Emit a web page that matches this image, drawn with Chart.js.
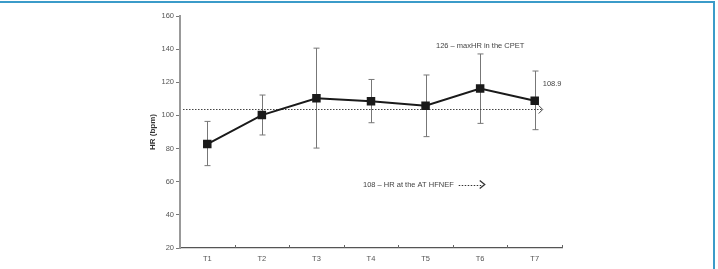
<!DOCTYPE html>
<html>
<head>
<meta charset="utf-8">
<script src="https://cdn.jsdelivr.net/npm/chart.js@4"></script>
<style>
  body { margin: 0; background: #fff; }
  #wrap { position: relative; width: 718px; height: 269px; }
  #frame { position: absolute; left: 0; top: 1px; width: 713px; height: 268px;
           border-top: 2px solid #3b9bc9; border-right: 2px solid #3b9bc9; }
</style>
</head>
<body>
<div id="wrap">
  <canvas id="hrChart" width="718" height="269"></canvas>
  <div id="frame"></div>
</div>
<script>
var labels = ['T1', 'T2', 'T3', 'T4', 'T5', 'T6', 'T7'];
var hrMean = [82.7, 100.2, 110.4, 108.6, 105.8, 116.2, 108.9];
var hrLow = [69.7, 88.2, 80.3, 95.6, 87.2, 95.2, 91.4];
var hrHigh = [96.4, 112.3, 140.6, 121.7, 124.4, 137.1, 126.8];
var yTicks = [20, 40, 60, 80, 100, 120, 140, 160];
var atLine = 104;

var font = '"Liberation Sans Narrow", "Liberation Sans", Arial, sans-serif';

var extras = {
    id: 'extras',
    beforeDatasetsDraw: function(chart) {
        var ctx = chart.ctx, x = chart.scales.x, y = chart.scales.y;
        ctx.save();
        // x ticks pointing up, at category boundaries
        ctx.strokeStyle = '#666';
        ctx.lineWidth = 1;
        var b = chart.chartArea.bottom;
        for (var i = 0; i < labels.length; i++) {
            var bx = Math.round(x.getPixelForValue(i) + (x.getPixelForValue(1) - x.getPixelForValue(0)) / 2) + 0.5;
            ctx.beginPath();
            ctx.moveTo(bx, b); ctx.lineTo(bx, b - 3);
            ctx.stroke();
        }
        // error bars
        ctx.strokeStyle = '#777';
        hrMean.forEach(function(v, i) {
            var px = Math.round(x.getPixelForValue(i)) + 0.5;
            var top = y.getPixelForValue(hrHigh[i]);
            var bot = y.getPixelForValue(hrLow[i]);
            ctx.beginPath();
            ctx.moveTo(px, top); ctx.lineTo(px, bot);
            ctx.moveTo(px - 3, top); ctx.lineTo(px + 3, top);
            ctx.moveTo(px - 3, bot); ctx.lineTo(px + 3, bot);
            ctx.stroke();
        });
        // dotted AT line with arrow
        var ly = Math.round(y.getPixelForValue(atLine)) + 0.5;
        var endX = x.getPixelForValue(6) + 7;
        ctx.strokeStyle = '#444';
        ctx.setLineDash([1.5, 1.5]);
        ctx.beginPath();
        ctx.moveTo(chart.chartArea.left + 3, ly);
        ctx.lineTo(endX, ly);
        ctx.stroke();
        ctx.setLineDash([]);
        ctx.beginPath();
        ctx.moveTo(endX - 3, ly - 4); ctx.lineTo(endX + 1, ly); ctx.lineTo(endX - 3, ly + 4);
        ctx.stroke();
        ctx.restore();
    },
    afterDatasetsDraw: function(chart) {
        var ctx = chart.ctx, x = chart.scales.x, y = chart.scales.y;
        ctx.save();
        ctx.fillStyle = '#444';
        ctx.font = '7.5px ' + font;
        ctx.textBaseline = 'middle';
        ctx.textAlign = 'center';
        ctx.fillText('126 \u2013 maxHR in the CPET', x.getPixelForValue(5), y.getPixelForValue(142));
        ctx.textAlign = 'left';
        ctx.fillText('108.9', x.getPixelForValue(6) + 8, y.getPixelForValue(119));
        var tx = x.getPixelForValue(3) - 8, ty = y.getPixelForValue(58.3);
        var txt = '108 \u2013 HR at the AT HFNEF';
        ctx.fillText(txt, tx, ty);
        var ax = tx + ctx.measureText(txt).width + 5;
        ctx.strokeStyle = '#333';
        ctx.lineWidth = 1;
        ctx.setLineDash([1.5, 1.5]);
        ctx.beginPath();
        ctx.moveTo(ax, Math.round(ty) + 0.5); ctx.lineTo(ax + 24, Math.round(ty) + 0.5);
        ctx.stroke();
        ctx.setLineDash([]);
        ctx.lineWidth = 1.3;
        ctx.beginPath();
        ctx.moveTo(ax + 21, ty - 4); ctx.lineTo(ax + 26, ty); ctx.lineTo(ax + 21, ty + 4);
        ctx.stroke();
        ctx.restore();
    }
};

var ctx = document.getElementById('hrChart').getContext('2d');
var hrChart = new Chart(ctx, {
    type: 'line',
    data: {
        labels: labels,
        datasets: [{
            data: hrMean,
            borderColor: '#1a1a1a',
            borderWidth: 2,
            pointStyle: 'rect',
            pointRadius: 4.6,
            pointBackgroundColor: '#1a1a1a',
            pointBorderColor: '#1a1a1a',
            tension: 0
        }]
    },
    options: {
        responsive: false,
        animation: false,
        events: [],
        layout: { padding: { left: 140, right: 156, top: 16, bottom: 0 } },
        plugins: { legend: { display: false }, tooltip: { enabled: false } },
        scales: {
            x: {
                offset: true,
                afterFit: function(s) { s.height = 21; },
                grid: { offset: true, drawOnChartArea: false, drawTicks: false },
                border: { color: '#555', width: 1.2 },
                ticks: { color: '#555', padding: 6, font: { family: font, size: 7.5 } }
            },
            y: {
                min: 20,
                max: 160,
                afterFit: function(s) { s.width = 40; },
                afterBuildTicks: function(s) { s.ticks = yTicks.map(function(v) { return { value: v }; }); },
                grid: { drawOnChartArea: false, tickLength: 4, color: '#777', lineWidth: 1 },
                border: { color: '#999', width: 2 },
                ticks: { color: '#555', padding: 2, font: { family: font, size: 7.5 } },
                title: { display: true, text: 'HR (bpm)', color: '#333', padding: { top: 8, bottom: 0 },
                         font: { family: font, size: 8, weight: 'bold' } }
            }
        }
    },
    plugins: [extras]
});
</script>
</body>
</html>
